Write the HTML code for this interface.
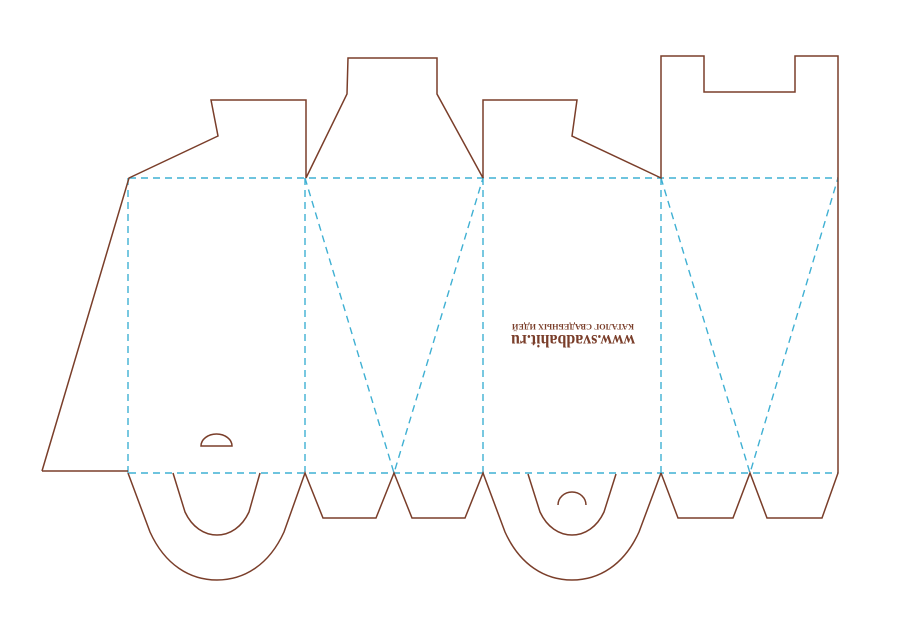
<!DOCTYPE html>
<html><head><meta charset="utf-8"><style>
html,body{margin:0;padding:0;background:#fff;width:900px;height:636px;overflow:hidden}
svg{display:block}
</style></head><body>
<svg width="900" height="636" viewBox="0 0 900 636" xmlns="http://www.w3.org/2000/svg">
<g fill="none" stroke="#3fb0d3" stroke-width="1.4" stroke-dasharray="7,5">
<line x1="129" y1="178" x2="838" y2="178"/>
<line x1="129" y1="473" x2="838" y2="473"/>
<line x1="128" y1="178" x2="128" y2="473"/>
<line x1="305" y1="178" x2="305" y2="473"/>
<line x1="483" y1="178" x2="483" y2="473"/>
<line x1="661" y1="178" x2="661" y2="473"/>
<polyline points="305,178 394,473 483,178"/>
<polyline points="661,178 750,473 838,178"/>
</g>
<g fill="none" stroke="#7a3e2a" stroke-width="1.5" stroke-linejoin="miter">
<polyline points="42,471 128,471"/>
<polyline points="42,471 129,178 218,136 211,100 306,100 306,178 347,94 348,58 437,58 437,94 483,178 483,100 577,100 572,136 661,178 661,56 704,56 704,92 795,92 795,56 838,56 838,473 822,518 767,518 750,473 733,518 678,518 661,473"/>
<path d="M128 473 L150 532 C165 565 190 580 217 580 C244 580 269 565 284 532 L305 473 L323 518 L376 518 L394 473 L412 518 L465 518 L483 473 L505 532 C520 565 545 580 572 580 C599 580 624 565 639 532 L661 473"/>
<path d="M173 473 L185 512 C192 527 204 535 217 535 C230 535 242 527 249 512 L260 473"/>
<path d="M528 474 L540 512 C547 527 559 535 572 535 C585 535 597 527 604 512 L616 474"/>
<path d="M201 446 L232 446 A15.5 12 0 0 0 201 446 Z"/>
<path d="M558 505 A14 13 0 0 1 586 505"/>
</g>
<g transform="rotate(180 573 333)" fill="#7a3e2a" font-family="Liberation Serif, serif">
<text x="573" y="331" text-anchor="middle" font-size="18" font-weight="bold" textLength="124" lengthAdjust="spacingAndGlyphs">www.svadbahit.ru</text>
<text x="573" y="342" text-anchor="middle" font-size="8" font-weight="bold" textLength="122" lengthAdjust="spacingAndGlyphs">КАТАЛОГ СВАДЕБНЫХ ИДЕЙ</text>
</g>
</svg>
</body></html>
